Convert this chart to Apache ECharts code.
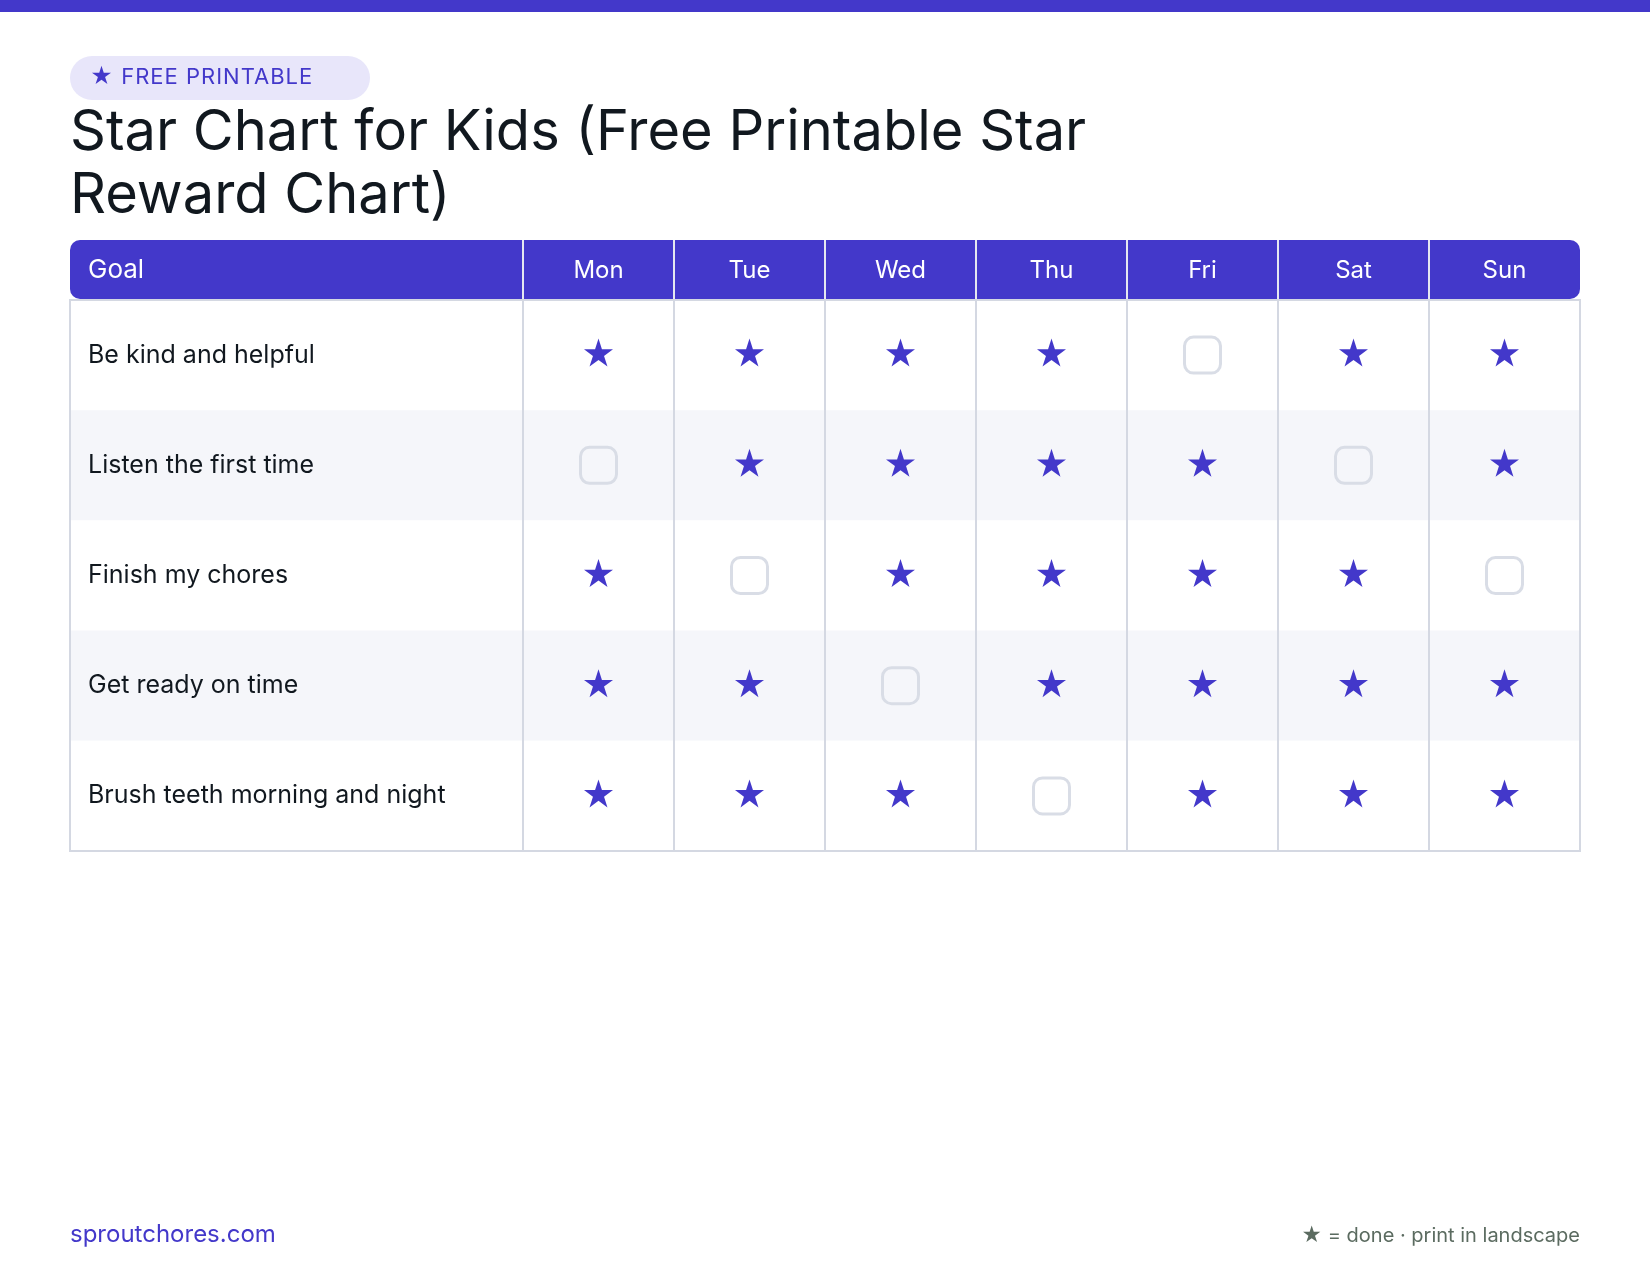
<!DOCTYPE html>
<html><head><meta charset="utf-8">
<style>html,body{margin:0;padding:0;background:#fff}#c{width:1650px;height:1275px}</style>
<script src="https://cdn.jsdelivr.net/npm/echarts@6/dist/echarts.min.js"></script>
</head><body><div id="c"></div>
<script>
const goalHeader = 'Goal';
const days = ['Mon','Tue','Wed','Thu','Fri','Sat','Sun'];
const goals = ['Be kind and helpful','Listen the first time','Finish my chores','Get ready on time','Brush teeth morning and night'];
const beKind   = [1,1,1,1,0,1,1];
const listen   = [0,1,1,1,1,0,1];
const chores   = [1,0,1,1,1,1,0];
const ready    = [1,1,0,1,1,1,1];
const brush    = [1,1,1,0,1,1,1];
const rows = [beKind, listen, chores, ready, brush];

const INDIGO='#4338ca', BORDER='#d4d8e2', BOX='#d9dde6', STRIPE='#f5f6fa', INK='#11181f';
const F='Inter';
const STAR='path://M50 0 L61.8 36.3 L100 36.3 L69.1 58.8 L80.9 95.1 L50 72.6 L19.1 95.1 L30.9 58.8 L0 36.3 L38.2 36.3 Z';
const done=[], empty=[];
rows.forEach((r,y)=>r.forEach((v,x)=>(v?done:empty).push([x,y])));

const L=70, R=1580, D=523, HT=240, HB=299, T=300, B=851, CW=151;
const seps = days.map((d,i)=>({type:'line',z:-1,shape:{x1:D+CW*i,y1:HT,x2:D+CW*i,y2:HB},style:{stroke:'#e5e7f0',lineWidth:2}}));

const chart = echarts.init(document.getElementById('c'));
// a separate canvas layer for the tracked-out badge text
const layer = chart.getZr().painter.getLayer && chart.getZr().painter.getLayer(5);
if (layer && layer.ctx) layer.ctx.letterSpacing = '1px';
const splitY={show:true,areaStyle:{color:['#ffffff',STRIPE]}};
chart.setOption({
  animation:false, backgroundColor:'#ffffff',
  grid:[
    {left:L,top:T,width:D-L,height:B-T},
    {left:D,top:T,width:R-D,height:B-T}
  ],
  xAxis:[
    {gridIndex:0,type:'category',data:[goalHeader],position:'top',axisLine:{show:false},axisTick:{show:false},axisLabel:{show:false},splitLine:{show:false}},
    {gridIndex:1,type:'category',data:days,position:'top',axisLine:{show:false},axisTick:{show:false},
     axisLabel:{color:'#ffffff',fontFamily:F,fontSize:24,margin:17},
     splitLine:{show:true,lineStyle:{color:BORDER,width:2}}}
  ],
  yAxis:[
    {gridIndex:0,type:'category',data:goals,inverse:true,axisLine:{show:false},axisTick:{show:false},
     axisLabel:{inside:true,margin:18,color:INK,fontFamily:F,fontSize:25},splitArea:splitY,splitLine:{show:false}},
    {gridIndex:1,type:'category',data:goals,inverse:true,axisLine:{show:false},axisTick:{show:false},
     axisLabel:{show:false},splitArea:splitY,splitLine:{show:false}}
  ],
  series:[
    {name:'done',type:'scatter',xAxisIndex:1,yAxisIndex:1,data:done,symbol:STAR,symbolSize:[29,28],symbolOffset:[0,-2.5],itemStyle:{color:INDIGO,opacity:1},z:5},
    {name:'empty',type:'scatter',xAxisIndex:1,yAxisIndex:1,data:empty,symbol:'roundRect',symbolSize:36,itemStyle:{color:'rgba(0,0,0,0)',borderColor:BOX,borderWidth:3,opacity:1},z:5}
  ],
  graphic:[
    {type:'rect',z:-1,shape:{x:0,y:0,width:1650,height:12},style:{fill:INDIGO}},
    {type:'rect',z:1,shape:{x:L,y:T,width:R-L,height:B-T},style:{fill:'none',stroke:BORDER,lineWidth:2}},
    {type:'rect',z:-2,shape:{x:L,y:HT,width:R-L,height:HB-HT,r:10},style:{fill:INDIGO}},
    ...seps,
    {type:'text',z:3,style:{x:88,y:270.5,text:goalHeader,fill:'#ffffff',font:'26px '+F,textVerticalAlign:'middle'}},
    {type:'rect',z:1,shape:{x:70,y:56,width:300,height:44,r:22},style:{fill:'#e8e6fa'}},
    {type:'text',zlevel:5,z:3,style:{x:90,y:77,text:'★ FREE PRINTABLE',fill:INDIGO,font:'22px '+F,textVerticalAlign:'middle'}},
    {type:'text',z:3,style:{x:70,y:102,text:'Star Chart for Kids (Free Printable Star\nReward Chart)',fill:INK,font:'56px '+F,lineHeight:63,textVerticalAlign:'top'}},
    {type:'text',z:3,style:{x:70,y:1235,text:'sproutchores.com',fill:INDIGO,font:'24px '+F,textVerticalAlign:'middle'}},
    {type:'text',z:3,style:{x:1580,y:1236,text:'★ = done · print in landscape',fill:'#5b6b60',font:'20px '+F,textAlign:'right',textVerticalAlign:'middle'}}
  ]
});
</script></body></html>
